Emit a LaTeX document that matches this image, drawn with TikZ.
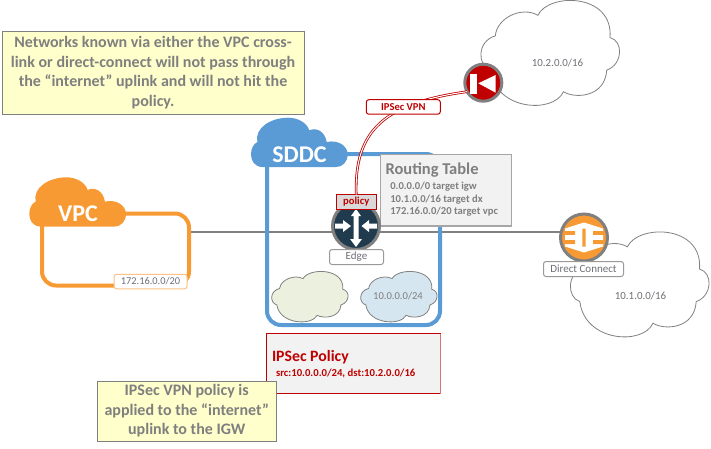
\documentclass[tikz,border=0pt]{standalone}
\usepackage{fontspec}
\setmainfont{Carlito}
\definecolor{txtgray}{HTML}{7F7F7F}
\definecolor{lblgray}{HTML}{6E7077}
\definecolor{linegray}{HTML}{808080}
\definecolor{vpcorange}{HTML}{F79A33}
\definecolor{sddcblue}{HTML}{5B9BD5}
\definecolor{ipred}{HTML}{C00000}
\definecolor{notefill}{HTML}{FFFFCC}
\definecolor{panelfill}{HTML}{F2F2F2}
\definecolor{greencloud}{HTML}{EBF1DE}
\definecolor{bluecloud}{HTML}{D6E6F0}
\definecolor{edgedark}{HTML}{1F3B4D}
\newcommand{\officecloud}[5]{%
  \draw[#5,shift={(#1,#2)},xscale=#3/415,yscale=#4/313]
    (40,105) .. controls (45,50) and (120,15) .. (168,43)
    .. controls (200,-25) and (395,-25) .. (385,110)
    .. controls (425,120) and (425,190) .. (375,208)
    .. controls (370,290) and (280,295) .. (245,273)
    .. controls (215,340) and (40,330) .. (25,208)
    .. controls (-15,195) and (-15,120) .. (40,105) -- cycle;}
\newcommand{\titlecloud}[3]{%
  \fill[#3,shift={(#1,#2)},scale=0.3333]
    (35,148) .. controls (10,148) and (0,128) .. (0,110)
    .. controls (0,92) and (8,78) .. (19,73)
    .. controls (10,30) and (60,0) .. (112,0)
    .. controls (140,0) and (168,15) .. (175,38)
    .. controls (195,28) and (222,40) .. (227,73)
    .. controls (262,65) and (290,85) .. (290,110)
    .. controls (290,132) and (275,148) .. (255,148) -- cycle;}
\tikzset{
  every node/.append style={outer sep=0pt},
  note/.style={draw=linegray,line width=1pt,fill=notefill,inner sep=0pt,anchor=north west,align=center,
    text=txtgray,font=\fontsize{16}{19.5}\selectfont\bfseries},
  panel/.style={fill=panelfill,inner sep=0pt,anchor=north west},
  framebox/.style={inner sep=0pt,anchor=north west,rounded corners=14pt,line width=4pt,fill=none},
  tag/.style={draw,fill=white,inner sep=0pt,anchor=north west,rounded corners=2.5pt,line width=1pt,
    text=lblgray,font=\fontsize{11}{14}\selectfont},
  cloudtext/.style={inner sep=0pt,text=lblgray,font=\fontsize{10.9}{14}\selectfont},
  cloudtitle/.style={inner sep=0pt,text=white,font=\fontsize{24}{28}\selectfont\bfseries},
  rowtext/.style={inner sep=0pt,anchor=west,text=txtgray,font=\fontsize{10.6}{14}\selectfont\bfseries},
  icon/.style={circle,inner sep=0pt,minimum size=47pt,draw=linegray,line width=3pt},
  thincloud/.style={draw=linegray,line width=.8pt,fill=white},
  link/.style={draw=linegray,line width=2pt},
  vpnline/.style={draw=ipred,line width=.8pt,double=white,double distance=1pt},
}
\begin{document}
\begin{tikzpicture}[x=1pt,y=-1pt]
\useasboundingbox (0,0) rectangle (711,448);
% large clouds
\officecloud{482}{1}{138}{104}{thincloud}
\officecloud{571.5}{232.5}{138}{104}{thincloud}
\node[cloudtext] (net2) at (557.5,62.5) {10.2.0.0/16};
\node[cloudtext] (net1) at (640.5,295.5) {10.1.0.0/16};
% link
\coordinate (vlink) at (189,231.5);
\node[icon,fill=vpcorange] (dc) at (584,237.5) {};
\draw[link] (vlink) -- (vlink -| dc.west);
% VPC
\node[framebox,draw=vpcorange,minimum width=147pt,minimum height=72pt] (vpcbox) at (42,213.5) {};
\titlecloud{29.3}{177.3}{vpcorange}
\node[cloudtitle] (vpctitle) at (78,214) {VPC};
\node[tag,draw=vpcorange!60!white,font=\fontsize{10.4}{14}\selectfont,minimum width=73pt,minimum height=14.5pt] (vpcnet) at (114,274.3) {172.16.0.0/20};
% SDDC
\node[framebox,draw=sddcblue,minimum width=173pt,minimum height=171pt] (sddcbox) at (267,154) {};
\titlecloud{251}{117.7}{sddcblue}
\node[cloudtitle] (sddctitle) at (299.5,155) {SDDC};
\officecloud{272.3}{271.7}{76}{50}{draw=linegray,line width=.8pt,fill=greencloud}
\officecloud{361.3}{271.7}{76}{50}{draw=linegray,line width=.8pt,fill=bluecloud}
\node[cloudtext,font=\fontsize{10.6}{14}\selectfont,text=txtgray] (subnet) at (398,296.5) {10.0.0.0/24};
% Routing table
\node[panel,draw=linegray!70,line width=1.5pt,minimum width=131pt,minimum height=71.5pt] (rtable) at (380.5,154.5) {};
\node[rowtext,font=\fontsize{16.5}{20}\selectfont\bfseries] (rttitle) at (385.5,170) {Routing Table};
\node[rowtext] (rt1) at (390.3,186.7) {0.0.0.0/0 target igw};
\node[rowtext] (rt2) at (390.3,199.5) {10.1.0.0/16 target dx};
\node[rowtext] (rt3) at (390.3,211.7) {172.16.0.0/20 target vpc};
% Edge router
\node[icon,fill=edgedark] (edge) at (356,226) {};
\fill[white] (356,209) -- (361,216) -- (358.5,216) -- (358.5,239) -- (362,239) -- (356,247) -- (350,239) -- (353.5,239) -- (353.5,216) -- (351,216) -- cycle;
\fill[white] (335,223.5) -- (343,223.5) -- (343,220) -- (351,226) -- (343,232) -- (343,228.5) -- (335,228.5) -- cycle;
\fill[white] (377,223.5) -- (369,223.5) -- (369,220) -- (361.5,226) -- (369,232) -- (369,228.5) -- (377,228.5) -- cycle;
\node[tag,draw=linegray!80,minimum width=54pt,minimum height=15pt] (edgelbl) at (329.5,249.5) {Edge};
\node[draw=ipred,fill=black!15,line width=1pt,inner sep=0pt,anchor=north west,minimum width=39.5pt,minimum height=14.5pt,
  text=ipred,font=\fontsize{10.6}{14}\selectfont\bfseries] (policy) at (336.5,194.5) {policy};
% VPN gateway
\node[icon,fill=ipred,minimum size=37pt] (vpn) at (483.3,82.7) {};
\fill[white] (470,74) rectangle (476.7,94);
\fill[white] (478.3,83.3) -- (495.7,75) -- (495.7,92.7) -- cycle;
\draw[vpnline] (policy.north) .. controls (354,130) and (385,103) .. (vpn.209);
\node[tag,draw=ipred,text=ipred,font=\fontsize{10.6}{14}\selectfont\bfseries,minimum width=74pt,minimum height=14.5pt] (vpnlbl) at (366.3,99.7) {IPSec VPN};
% Direct connect glyph
\begin{scope}[shift={(dc.center)}]
\fill[white] (0,-15) -- (19,-9) -- (19,9) -- (0,15) -- (-19,9) -- (-19,-9) -- cycle;
\fill[vpcorange] (-1.7,-9) rectangle (1.7,9)
  (-20,-6.5) rectangle (-9,-2.7) (-20,2.7) rectangle (-9,6.5)
  (9,-6.5) rectangle (20,-2.7) (9,2.7) rectangle (20,6.5);
\end{scope}
\node[tag,draw=linegray!80,minimum width=80pt,minimum height=15pt] (dclbl) at (543.5,261.5) {Direct Connect};
% IPSec policy panel
\node[panel,draw=ipred,line width=1pt,minimum width=174pt,minimum height=60pt] (polpanel) at (266.5,333.5) {};
\draw[draw=ipred!55!white,line width=1pt] (polpanel.north east) -- (polpanel.south east);
\node[rowtext,text=ipred,font=\fontsize{15.8}{18}\selectfont\bfseries] (poltitle) at (272,357) {IPSec Policy};
\node[rowtext,text=ipred,font=\fontsize{10.7}{13}\selectfont\bfseries] (polrule) at (276,373) {src:10.0.0.0/24, dst:10.2.0.0/16};
% notes
\node[note,minimum width=302pt,minimum height=83.5pt] (note1) at (2,31) {Networks known via either the VPC cross-\\link or direct-connect will not pass through\\the “internet” uplink and will not hit the\\policy.};
\node[note,minimum width=178.5pt,minimum height=60pt] (note2) at (97.5,381) {IPSec VPN policy is\\applied to the “internet”\\uplink to the IGW};
\end{tikzpicture}
\end{document}
